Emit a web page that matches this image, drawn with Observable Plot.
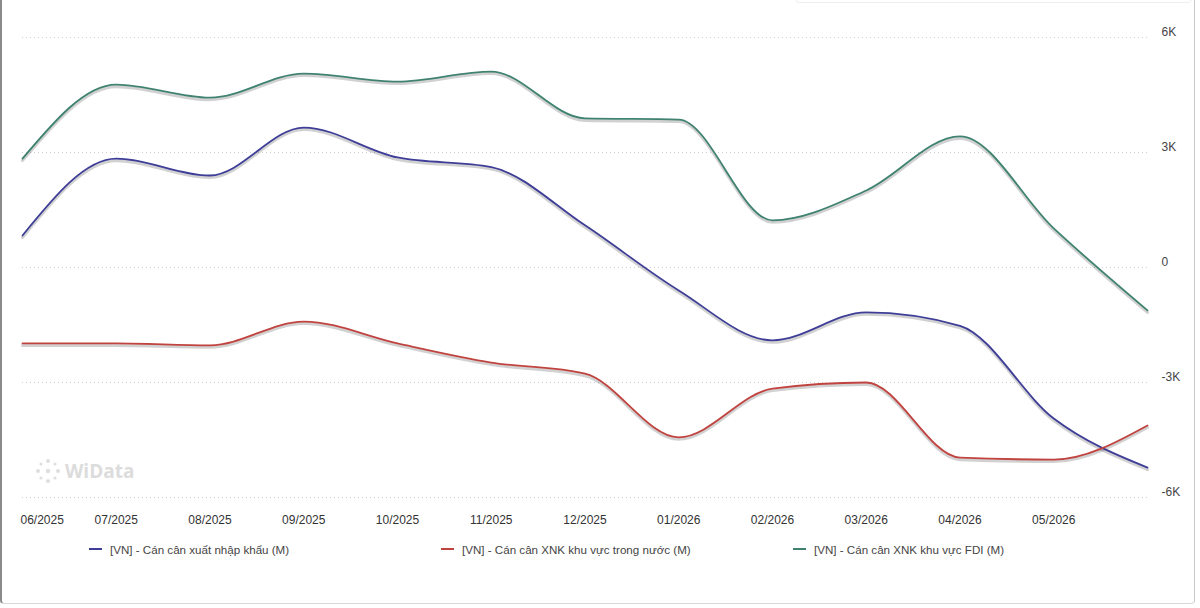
<!DOCTYPE html>
<html><head><meta charset="utf-8">
<script src="https://cdn.jsdelivr.net/npm/d3@7"></script>
<script src="https://cdn.jsdelivr.net/npm/@observablehq/plot@0.6"></script>
<style>
body{margin:0;background:#fff;font-family:"Liberation Sans",Arial,sans-serif;}
#wrap{position:relative;width:1200px;height:608px;overflow:hidden;background:#fff;}
#card{position:absolute;left:0;top:-8px;width:1195px;height:612px;border-left:2px solid #8a8a8a;border-right:1px solid #c8c8c8;border-bottom:1px solid #d8d8d8;border-radius:0 0 4px 4px;box-sizing:border-box;}
#topbar{position:absolute;left:795px;top:-6px;width:395px;height:7px;border:1px solid #eee;border-radius:4px;background:#fff;}
#chart{position:absolute;left:0;top:0;}
#legend{position:absolute;left:0;top:540px;width:1200px;height:18px;font-size:11.6px;color:#444;}
.li{position:absolute;top:0;display:flex;align-items:center;height:18px;white-space:nowrap;}
.sw{display:inline-block;width:13px;height:2px;margin-right:8px;}
#wm{position:absolute;left:35px;top:458px;display:flex;align-items:center;color:#dcdcdc;font-size:19px;font-weight:bold;font-family:"Open Sans",Arial,sans-serif;}
</style></head><body>
<div id="wrap">
<div id="card"></div>
<div id="topbar"></div>
<div id="wm"><svg width="26" height="26" viewBox="0 0 26 26" style="margin-right:4px"><g fill="#dedede"><circle cx="13" cy="3" r="2"/><circle cx="13" cy="23" r="2"/><circle cx="3" cy="13" r="2"/><circle cx="23" cy="13" r="2"/><circle cx="6" cy="6" r="1.6"/><circle cx="20" cy="6" r="1.6"/><circle cx="6" cy="20" r="1.6"/><circle cx="20" cy="20" r="1.6"/><circle cx="13" cy="13" r="2.2"/></g></svg><span>WiData</span></div>
<div id="chart"></div>
<div id="legend"></div>
</div>
<script>
const months = ["06/2025","07/2025","08/2025","09/2025","10/2025","11/2025","12/2025","01/2026","02/2026","03/2026","04/2026","05/2026","06/2026"];
const seriesNames = ["[VN] - Cán cân xuất nhập khẩu (M)","[VN] - Cán cân XNK khu vực trong nước (M)","[VN] - Cán cân XNK khu vực FDI (M)"];
const seriesColors = ["#3e3e98","#c0433f","#3f8270"];
const exportBalance = [835, 2840, 2400, 3650, 2870, 2620, 1100, -600, -1900, -1170, -1520, -3940, -5220];
const domesticBalance = [-1980, -1980, -2030, -1410, -1980, -2480, -2770, -4430, -3160, -3000, -4960, -5010, -4120];
const fdiBalance = [2840, 4770, 4430, 5060, 4850, 5110, 3890, 3860, 1230, 2010, 3420, 1020, -1120];
const yTicks = [-6000, -3000, 0, 3000, 6000];
const yTickLabels = ["-6K", "-3K", "0", "3K", "6K"];
const xTickIdx = [1,2,3,4,5,6,7,8,9,10,11];

const allSeries = [exportBalance, domesticBalance, fdiBalance];
const rows = [];
allSeries.forEach((arr, s) => arr.forEach((v, i) => rows.push({i, month: months[i], v, s: seriesNames[s]})));

const font = "'Liberation Sans', Arial, sans-serif";
const chart = Plot.plot({
  width: 1200, height: 535,
  marginLeft: 22, marginRight: 53, marginTop: 37, marginBottom: 38,
  style: {fontFamily: font, fontSize: "12px", color: "#444", background: "transparent"},
  x: {type: "linear", domain: [0, months.length - 1], axis: null},
  y: {domain: [-6000, 6000], axis: null},
  color: {domain: seriesNames, range: seriesColors},
  marks: [
    Plot.ruleY(yTicks, {stroke: "#cfcfcf", strokeDasharray: "1,3", strokeWidth: 1}),
    Plot.axisY(yTicks, {anchor: "right", label: null, tickSize: 0, tickPadding: 14, dy: -5, tickFormat: d => yTickLabels[yTicks.indexOf(d)], fill: "#444"}),
    Plot.axisX(xTickIdx, {anchor: "bottom", label: null, tickSize: 0, tickPadding: 18, tickFormat: i => months[i], fill: "#333"}),
    Plot.text([0], {x: d => d, frameAnchor: "bottom", lineAnchor: "top", dy: 18, text: d => months[d], textAnchor: "start", dx: -2, fill: "#333"}),
    Plot.line(rows, {x: "i", y: "v", z: "s", stroke: "#000", strokeOpacity: 0.18, strokeWidth: 3, dy: 2, curve: "monotone-x"}),
    Plot.line(rows, {x: "i", y: "v", z: "s", stroke: "s", strokeWidth: 1.8, curve: "monotone-x"})
  ]
});
document.getElementById("chart").appendChild(chart);

const legend = document.getElementById("legend");
const legendX = [89, 441, 793];
seriesNames.forEach((name, k) => {
  const item = document.createElement("div");
  item.className = "li";
  item.style.left = legendX[k] + "px";
  const sw = document.createElement("span");
  sw.className = "sw";
  sw.style.background = seriesColors[k];
  const t = document.createElement("span");
  t.textContent = name;
  item.appendChild(sw); item.appendChild(t);
  legend.appendChild(item);
});
</script>
</body></html>
